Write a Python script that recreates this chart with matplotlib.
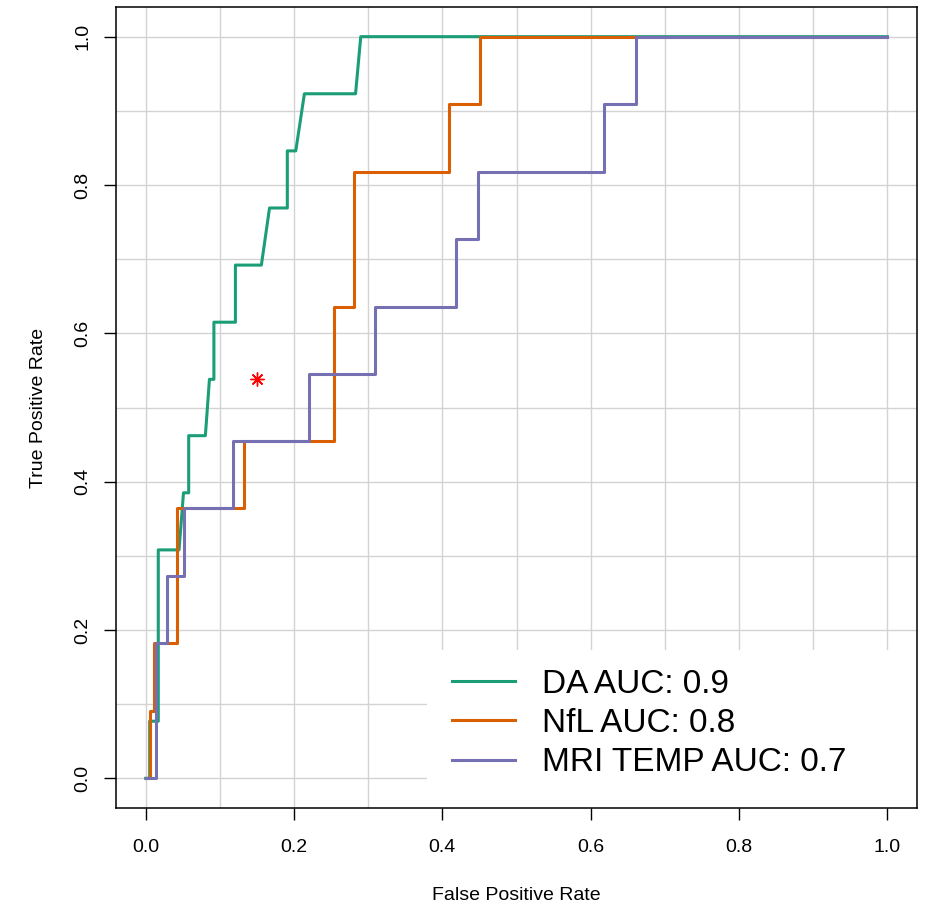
import matplotlib
matplotlib.use("Agg")
import matplotlib.pyplot as plt
from matplotlib.ticker import MultipleLocator
from matplotlib.patches import Rectangle

plt.rcParams['font.family'] = ['Liberation Sans', 'DejaVu Sans']

# ROC vertices (false positive rate, true positive rate) for each marker
da_fpr = [0, 0.0054, 0.0054, 0.017, 0.017, 0.045, 0.051, 0.058, 0.058, 0.0805, 0.086,
          0.092, 0.092, 0.121, 0.121, 0.156, 0.167, 0.191, 0.191, 0.2024, 0.214,
          0.283, 0.290, 1.0]
da_tpr = [0, 0, 0.077, 0.077, 0.308, 0.308, 0.385, 0.385, 0.462, 0.462, 0.538,
          0.538, 0.615, 0.615, 0.692, 0.692, 0.769, 0.769, 0.846, 0.846, 0.923,
          0.923, 1.0, 1.0]

nfl_fpr = [0, 0.0063, 0.0063, 0.0117, 0.0117, 0.042, 0.042, 0.133, 0.133, 0.2537,
           0.2537, 0.281, 0.281, 0.4085, 0.4085, 0.4507, 0.4507, 1.0]
nfl_tpr = [0, 0, 0.091, 0.091, 0.182, 0.182, 0.364, 0.364, 0.455, 0.455,
           0.636, 0.636, 0.818, 0.818, 0.909, 0.909, 1.0, 1.0]

mri_fpr = [0, 0.014, 0.014, 0.0287, 0.0287, 0.0513, 0.0513, 0.1174, 0.1174, 0.2204,
           0.2204, 0.309, 0.309, 0.419, 0.419, 0.4485, 0.4485, 0.618, 0.618,
           0.6617, 0.6617, 1.0]
mri_tpr = [0, 0, 0.182, 0.182, 0.273, 0.273, 0.364, 0.364, 0.455, 0.455,
           0.545, 0.545, 0.636, 0.636, 0.727, 0.727, 0.818, 0.818, 0.909, 0.909,
           1.0, 1.0]

labels = ['DA AUC: 0.9', 'NfL AUC: 0.8', 'MRI TEMP AUC: 0.7']
colors = ['#1B9E77', '#D95F02', '#7570B3']

# single operating point
cut_fpr = [0.15]
cut_tpr = [0.538]

ticks = [0.0, 0.2, 0.4, 0.6, 0.8, 1.0]
tick_labels = ['0.0', '0.2', '0.4', '0.6', '0.8', '1.0']

fig = plt.figure(figsize=(9.27, 9.06), dpi=100)
ax = fig.add_axes([116 / 927, 1 - 808 / 906, 801 / 927, 801 / 906])

curves = [(da_fpr, da_tpr), (nfl_fpr, nfl_tpr), (mri_fpr, mri_tpr)]
handles = []
for (x, y), lab, c in zip(curves, labels, colors):
    h, = ax.plot(x, y, color=c, lw=2.2, label=lab, zorder=3)
    handles.append(h)

ax.plot(cut_fpr, cut_tpr, marker=(8, 2, 0), color='red', ms=10, mew=1.0,
        ls='none', zorder=4)

ax.set_xlim(-0.04, 1.04)
ax.set_ylim(-0.04, 1.04)
ax.set_xticks(ticks)
ax.set_xticklabels(tick_labels)
ax.set_yticks(ticks)
ax.set_yticklabels(tick_labels, rotation=90, va='center')
ax.xaxis.set_minor_locator(MultipleLocator(0.1))
ax.yaxis.set_minor_locator(MultipleLocator(0.1))
ax.set_axisbelow(True)
ax.grid(which='both', color='#D3D3D3', lw=1.0)
ax.tick_params(which='minor', length=0)
ax.tick_params(which='major', length=8.5, width=1.0, labelsize=14, direction='out')
ax.tick_params(axis='x', pad=14)
ax.tick_params(axis='y', pad=9)
for s in ax.spines.values():
    s.set_linewidth(1.1)

ax.set_xlabel('False Positive Rate', fontsize=14, labelpad=22)
ax.set_ylabel('True Positive Rate', fontsize=14, labelpad=20)

# white panel behind the legend
ax.add_patch(Rectangle((0.388, 0.0), 0.612, 0.197, transform=ax.transAxes,
                       facecolor='white', edgecolor='none', zorder=1.5))
ax.legend(handles=handles, loc='upper left', bbox_to_anchor=(0.4195, 0.174),
          frameon=False, fontsize=24, borderpad=0, borderaxespad=0,
          handlelength=1.9, handletextpad=0.8, labelspacing=0.25)

fig.savefig('out.png', dpi=100)
